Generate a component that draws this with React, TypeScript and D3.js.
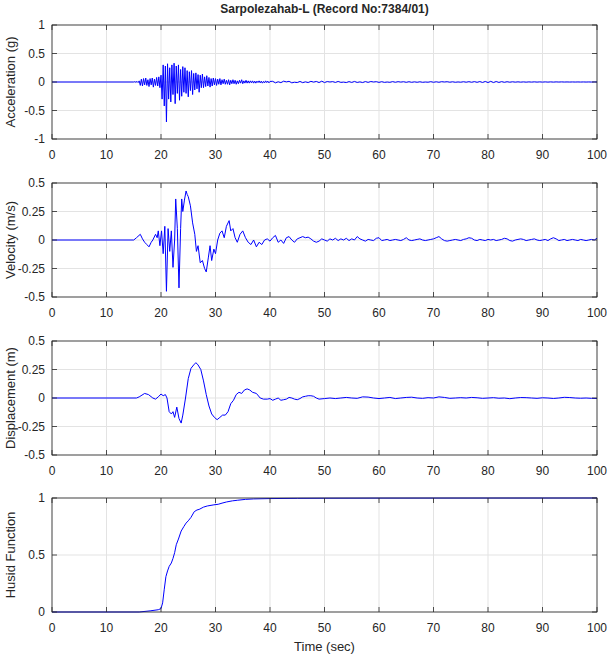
import React from "react";
import { scaleLinear, line } from "d3";

// acceleration (g): dense part sampled every 0.2 s from 15 s, tail every 0.5 s from 40.5 s
const accMain = [
  0, 0.005, -0.005, 0.01, -0.01, 0.02,
  -0.06, 0.05, -0.07, 0.06, -0.05, 0.07, -0.06, 0.04, -0.08, 0.06,
  -0.05, 0.07, -0.09, 0.05, -0.06, 0.08, -0.07, 0.09, -0.1, 0.12,
  -0.3, 0.3, -0.42, 0.28, -0.7, 0.32, -0.3, 0.25, -0.35, 0.3,
  -0.22, 0.33, -0.38, 0.28, -0.2, 0.3, -0.32, 0.22, -0.25, 0.27,
  -0.18, 0.25, -0.2, 0.2, -0.26, 0.18, -0.15, 0.2, -0.22, 0.15,
  -0.14, 0.16, -0.12, 0.13, -0.18, 0.12, -0.1, 0.14, -0.1, 0.09,
  -0.08, 0.11, -0.07, 0.08, -0.09, 0.06, -0.07, 0.07, -0.05, 0.06,
  -0.06, 0.05, -0.04, 0.06, -0.05, 0.04, -0.03, 0.05, -0.04, 0.03,
  -0.04, 0.04, -0.05, 0.03, -0.03, 0.04, -0.03, 0.03, -0.04, 0.02,
  -0.03, 0.03, -0.02, 0.04, -0.03, 0.02, -0.02, 0.03, -0.02, 0.02,
  -0.02, 0.02, -0.015, 0.02, -0.02, 0.015, -0.02, 0.015, -0.01, 0.02,
  -0.015, 0.015, -0.02, 0.01, -0.015, 0.02, -0.01, 0.015, -0.015, 0.01,
];
const accTail = [
  0.012, -0.015, 0.004, -0.012, 0.015, 0.002, 0.012, -0.015, -0.004, -0.01,
  0.01, -0.012, 0.003, -0.01, 0.012, -0.002, 0.01, -0.01, 0.015, -0.01,
  0.008, 0.0, 0.007, -0.008, 0.01, -0.007, -0.002, -0.01, 0.007, -0.008,
  0.01, -0.008, 0.002, -0.01, 0.008, -0.007, 0.009, 0.0, 0.006, -0.007,
  0.006, -0.007, 0.0, -0.006, 0.007, -0.005, 0.006, -0.002, 0.005, -0.006,
  0.005, -0.006, 0.003, -0.005, 0.004, -0.006, 0.0, -0.004, 0.006, -0.005,
  0.004, -0.005, 0.006, 0.0, 0.005, -0.004, 0.004, -0.005, 0.001, -0.004,
  0.005, -0.004, 0.006, -0.005, 0.007, -0.006, 0.008, -0.009, 0.01, -0.01,
  0.012, -0.01, 0.009, -0.008, 0.007, -0.006, 0.005, -0.004, 0.004, -0.003,
  0.003, -0.003, 0.002, -0.003, 0.002, -0.002, 0.003, -0.002, 0.002, -0.002,
  0.002, -0.002, 0.002, -0.002, 0.002, -0.001, 0.002, -0.001, 0.001, -0.001,
  0.001, -0.001, 0.001, -0.001, 0.001, -0.001, 0.001, -0.001, 0.001, 0,
];

// velocity (m/s)
const velTime = [
  0, 15, 15.5, 16.2, 16.6, 17, 17.4, 17.8, 18.2, 18.5,
  19, 19.3, 19.5, 19.8, 20.1, 20.4, 20.7, 21.0, 21.3, 21.6,
  21.9, 22.2, 22.5, 22.7, 23.0, 23.3, 23.6, 23.8, 24.0, 24.3,
  24.6, 24.8, 25.0, 25.4, 25.8, 26.2, 26.5, 26.8, 27.2, 27.6,
  28.0, 28.3, 28.7, 29.0, 29.3, 29.7, 30.0, 30.4, 30.8, 31.2,
  31.6, 32.0, 32.5, 32.8, 33.2, 33.6, 34.0, 34.5, 35.0, 35.5,
  36.0, 36.5, 37.0, 37.5, 38.0, 38.5, 39.0, 39.5, 40.0, 40.5,
  41.0, 41.5, 42.0, 42.5, 43.0, 43.5, 44.0, 44.5, 45.0,
];
const velMain = [
  0, 0, 0.02, 0.05, 0.01, -0.02, -0.04, -0.06, -0.02, 0.0,
  0.05, 0.02, 0.08, -0.05, 0.08, -0.12, 0.12, -0.45, 0.1, -0.1,
  0.08, -0.24, 0.0, 0.36, 0.1, -0.42, 0.1, 0.36, 0.25, 0.35,
  0.43, 0.4, 0.38, 0.3, 0.15, 0.05, -0.1, -0.05, -0.2, -0.18,
  -0.25, -0.28, -0.15, -0.05, -0.18, -0.08, -0.12, 0.0, 0.06, 0.08,
  0.02, 0.12, 0.17, 0.08, 0.1, 0.02, -0.02, 0.05, 0.08, 0.02,
  -0.02, -0.04, 0.0, -0.06, -0.02, -0.04, 0.0, 0.01, -0.01, 0.02,
  0.04, -0.02, 0.0, -0.03, 0.02, 0.03, 0.0, -0.02, 0.01,
];
// every 0.5 s from 45.5 s
const velTail = [
  0.02, 0.03, 0.02, 0.025, 0.01, -0.01, -0.02, -0.01, 0.01, 0.0,
  -0.01, 0.01, 0.0, 0.015, -0.005, 0.01, 0.0, 0.015, -0.005, 0.01,
  0.0, 0.03, 0.01, 0.0, -0.01, 0.005, 0.0, -0.005, 0.015, 0.02,
  -0.005, 0.0, 0.005, -0.005, 0.0, 0.005, 0.0, -0.005, 0.005, 0.02,
  0.0, -0.005, 0.0, 0.005, 0.01, 0.0, -0.005, 0.0, 0.005, 0.01,
  0.02, 0.03, 0.01, -0.005, -0.01, -0.005, 0.0, 0.005, 0.0, -0.005,
  0.005, 0.01, 0.02, 0.015, 0.0, -0.005, 0.005, 0.0, -0.005, 0.005,
  0.0, 0.005, -0.005, 0.0, 0.005, 0.015, 0.01, -0.005, -0.01, 0.0,
  0.005, 0.01, 0.005, -0.005, 0.0, 0.005, 0.01, 0.0, -0.005, 0.0,
  0.005, -0.005, 0.01, 0.02, 0.01, -0.005, 0.0, 0.005, -0.005, 0.0,
  0.005, 0.0, -0.005, 0.005, 0.0, -0.005, 0.0, 0.005, 0.0, 0.015,
];

// displacement (m)
const dispTime = [
  0, 15.5, 16, 17, 17.7, 18.5, 19, 19.5, 20, 20.4,
  20.8, 21.1, 21.5, 21.9, 22.2, 22.5, 22.9, 23.3, 23.7, 24.0,
  24.5, 25.0, 25.5, 26.0, 26.4, 26.8, 27.3, 27.8, 28.3, 28.8,
  29.3, 29.8, 30.3, 30.8, 31.3, 31.8, 32.3, 32.8, 33.3, 33.8,
  34.3, 34.8, 35.3, 35.8, 36.3, 36.8, 37.5, 38.2, 38.8, 39.5,
  40, 40.5, 41, 41.5, 42, 42.5, 43, 43.5, 44, 44.5,
  45, 45.5, 46, 46.5, 47, 47.5, 48, 48.5, 49, 50,
];
const dispMain = [
  0, 0, 0.01, 0.04, 0.03, 0.0, -0.01, 0.01, 0.035, 0.02,
  0.03, 0.0, -0.12, -0.14, -0.12, -0.17, -0.08, -0.18, -0.22, -0.15,
  0.0, 0.17, 0.26, 0.29, 0.31, 0.29, 0.25, 0.15, 0.03, -0.07,
  -0.14, -0.17, -0.19, -0.17, -0.15, -0.15, -0.12, -0.05, -0.02, 0.03,
  0.05, 0.04, 0.07, 0.08, 0.07, 0.05, 0.04, 0.0, -0.01, -0.01,
  -0.005, -0.02, -0.01, 0.0, -0.02, -0.015, -0.01, 0.005, 0.0, -0.01,
  -0.015, -0.005, 0.01, 0.015, 0.02, 0.02, 0.015, 0.0, -0.01, -0.005,
];
// every 1 s from 51 s
const dispTail = [
  0.0, -0.005, 0.0, 0.005, 0.0, -0.003, 0.01, 0.008, 0.0, -0.005,
  0.0, 0.005, -0.005, 0.0, 0.005, 0.007, 0.0, -0.003, 0.003, 0.0,
  0.01, 0.005, -0.003, 0.0, 0.003, 0.0, 0.005, 0.002, -0.003, 0.0,
  0.003, -0.002, 0.0, -0.006, 0.0, 0.004, 0.003, 0.0, -0.003, 0.002,
  0.0, -0.004, 0.0, 0.006, 0.004, 0.0, -0.002, 0.0, -0.003, -0.004,
];

// normalised Husid function
const husidTime = [
  0, 16, 18, 19.5, 20.0, 20.3, 20.6, 20.9, 21.2, 21.5,
  21.9, 22.2, 22.5, 22.8, 23.2, 23.7, 24.2, 24.6, 25.0, 25.5,
  26.1, 26.6, 27.0, 27.8, 28.5, 29.7, 30.5, 31.2, 32.0, 33.1,
  34.0, 35.5, 37, 40, 45, 50, 60, 100,
];
const husidVals = [
  0, 0, 0.01, 0.02, 0.03, 0.08, 0.2, 0.31, 0.36, 0.4,
  0.43, 0.47, 0.52, 0.59, 0.64, 0.71, 0.75, 0.78, 0.8, 0.83,
  0.88, 0.895, 0.9, 0.92, 0.93, 0.94, 0.945, 0.955, 0.965, 0.975,
  0.98, 0.988, 0.992, 0.995, 0.997, 0.998, 0.999, 1.0,
];

const xTicks = [0, 10, 20, 30, 40, 50, 60, 70, 80, 90, 100];
const accTicks = [-1, -0.5, 0, 0.5, 1];
const halfTicks = [-0.5, -0.25, 0, 0.25, 0.5];
const husidTicks = [0, 0.5, 1];

const W = 609;
const H = 663;
const left = 52;
const right = 597;
const panelH = 114;
const tops = [25, 183, 341, 498];
const font = "'Liberation Sans', Arial, Helvetica, sans-serif";
const ink = "#262626";

type Pt = [number, number];

const zip = (t: number[], v: number[]): Pt[] => t.map((d, i) => [d, v[i]]);

const accPts: Pt[] = [
  [0, 0],
  ...zip(accMain.map((_, i) => 15 + i * 0.2), accMain),
  ...zip(accTail.map((_, i) => 40.5 + i * 0.5), accTail),
];
const velPts: Pt[] = [
  ...zip(velTime, velMain),
  ...zip(velTail.map((_, i) => 45.5 + i * 0.5), velTail),
];
const dispPts: Pt[] = [
  ...zip(dispTime, dispMain),
  ...zip(dispTail.map((_, i) => 51 + i), dispTail),
];
const husidPts: Pt[] = zip(husidTime, husidVals);

const panels = [
  { label: "Acceleration (g)", ticks: accTicks, domain: [-1, 1], pts: accPts },
  { label: "Velocity (m/s)", ticks: halfTicks, domain: [-0.5, 0.5], pts: velPts },
  { label: "Displacement (m)", ticks: halfTicks, domain: [-0.5, 0.5], pts: dispPts },
  { label: "Husid Function", ticks: husidTicks, domain: [0, 1], pts: husidPts },
];

const x = scaleLinear().domain([0, 100]).range([left, right]);

const Panel = ({ p, top }: any) => {
  const y = scaleLinear().domain(p.domain).range([top + panelH, top]);
  const path = line<Pt>()
    .x((d) => x(d[0]))
    .y((d) => y(d[1]))(p.pts);
  const bottom = top + panelH;
  return (
    <g>
      {/* grid */}
      {xTicks.map((t) => (
        <line key={"gx" + t} x1={x(t)} x2={x(t)} y1={top} y2={bottom} stroke="#e3e3e3" strokeWidth={1} />
      ))}
      {p.ticks.map((t: number) => (
        <line key={"gy" + t} x1={left} x2={right} y1={y(t)} y2={y(t)} stroke="#e3e3e3" strokeWidth={1} />
      ))}
      <path d={path || ""} fill="none" stroke="#0000ff" strokeWidth={1} strokeLinejoin="round" />
      {/* box */}
      <rect x={left} y={top} width={right - left} height={panelH} fill="none" stroke={ink} strokeWidth={0.8} />
      {xTicks.map((t) => (
        <g key={"tx" + t}>
          <line x1={x(t)} x2={x(t)} y1={bottom} y2={bottom - 5} stroke={ink} strokeWidth={0.8} />
          <line x1={x(t)} x2={x(t)} y1={top} y2={top + 5} stroke={ink} strokeWidth={0.8} />
          <text x={x(t)} y={bottom + 20} textAnchor="middle" fontSize={12} fill={ink} fontFamily={font}>
            {t}
          </text>
        </g>
      ))}
      {p.ticks.map((t: number) => (
        <g key={"ty" + t}>
          <line x1={left} x2={left + 5} y1={y(t)} y2={y(t)} stroke={ink} strokeWidth={0.8} />
          <line x1={right} x2={right - 5} y1={y(t)} y2={y(t)} stroke={ink} strokeWidth={0.8} />
          <text x={left - 7} y={y(t)} dy="0.35em" textAnchor="end" fontSize={12} fill={ink} fontFamily={font}>
            {t}
          </text>
        </g>
      ))}
      <text
        transform={`translate(14.5, ${top + panelH / 2}) rotate(-90)`}
        textAnchor="middle"
        fontSize={13}
        fill={ink}
        fontFamily={font}
      >
        {p.label}
      </text>
    </g>
  );
};

export default function App() {
  return (
    <svg
      width={W}
      height={H}
      style={{ position: "absolute", left: 0, top: 0, background: "#fff" }}
    >
      <rect width={W} height={H} fill="#fff" />
      <text x={(left + right) / 2} y={13} textAnchor="middle" fontSize={12} fontWeight="bold" fill={ink} fontFamily={font}>
        Sarpolezahab-L (Record No:7384/01)
      </text>
      {panels.map((p, i) => (
        <Panel key={p.label} p={p} top={tops[i]} />
      ))}
      <text x={(left + right) / 2} y={651} textAnchor="middle" fontSize={13} fill={ink} fontFamily={font}>
        Time (sec)
      </text>
    </svg>
  );
}
